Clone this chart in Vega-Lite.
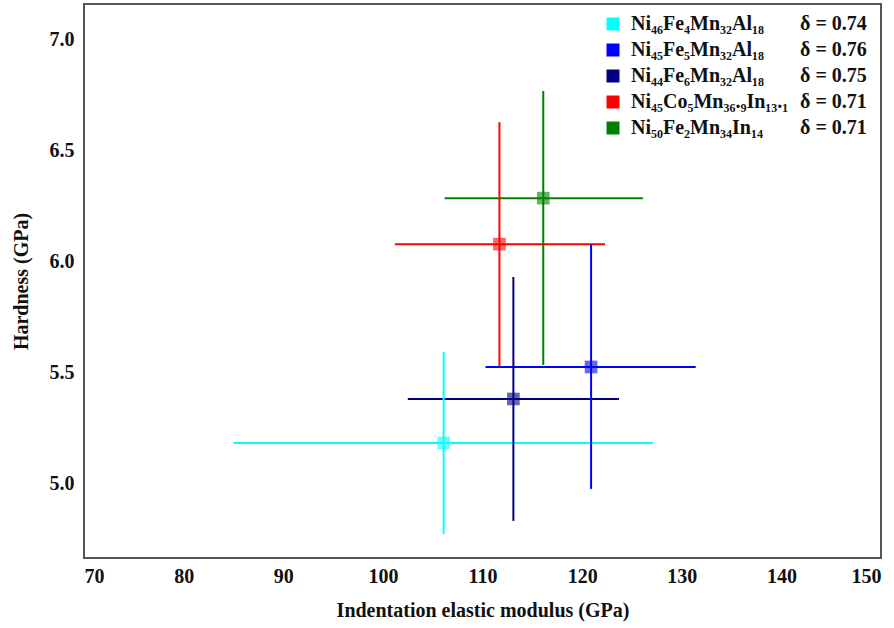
{
  "$schema": "https://vega.github.io/schema/vega-lite/v6.json",
  "width": 797,
  "height": 554,
  "autosize": {"type": "none"},
  "padding": {"left": 84, "top": 4, "right": 13, "bottom": 70},
  "background": "white",
  "config": {
    "view": {"stroke": "#555555", "strokeWidth": 2},
    "font": "Liberation Serif",
    "axis": {
      "grid": false,
      "ticks": false,
      "domain": false,
      "labelFont": "Liberation Serif",
      "labelFontWeight": "bold",
      "labelFontSize": 20,
      "labelColor": "#111111",
      "titleFont": "Liberation Serif",
      "titleFontWeight": "bold",
      "titleFontSize": 20,
      "titleColor": "#111111"
    }
  },
  "data": {
    "values": [
      {"alloy": "Ni₄₆Fe₄Mn₃₂Al₁₈", "delta_key": "1: 0.74", "E": 106.1, "E_lo": 85.0, "E_hi": 127.1, "H": 5.182, "H_lo": 4.772, "H_hi": 5.591},
      {"alloy": "Ni₄₅Fe₅Mn₃₂Al₁₈", "delta_key": "2: 0.76", "E": 120.9, "E_lo": 110.3, "E_hi": 131.4, "H": 5.524, "H_lo": 4.975, "H_hi": 6.077},
      {"alloy": "Ni₄₄Fe₆Mn₃₂Al₁₈", "delta_key": "3: 0.75", "E": 113.1, "E_lo": 102.5, "E_hi": 123.7, "H": 5.380, "H_lo": 4.831, "H_hi": 5.929},
      {"alloy": "Ni₄₅Co₅Mn₃₆.₉In₁₃.₁", "delta_key": "4: 0.71", "E": 111.7, "E_lo": 101.2, "E_hi": 122.3, "H": 6.077, "H_lo": 5.528, "H_hi": 6.626},
      {"alloy": "Ni₅₀Fe₂Mn₃₄In₁₄", "delta_key": "5: 0.71", "E": 116.1, "E_lo": 106.2, "E_hi": 126.1, "H": 6.284, "H_lo": 5.533, "H_hi": 6.766}
    ]
  },
  "encoding": {
    "x": {
      "field": "E",
      "type": "quantitative",
      "scale": {"domain": [70, 150], "nice": false, "zero": false},
      "axis": {"values": [70, 80, 90, 100, 110, 120, 130, 140, 150], "labelPadding": 8, "titlePadding": 14, "title": "Indentation elastic modulus (GPa)"}
    },
    "y": {
      "field": "H",
      "type": "quantitative",
      "scale": {"domain": [4.664, 7.158], "nice": false, "zero": false},
      "axis": {"values": [5.0, 5.5, 6.0, 6.5, 7.0], "format": ".1f", "labelPadding": 10, "titlePadding": 18, "title": "Hardness (GPa)"}
    },
    "color": {
      "field": "alloy",
      "type": "nominal",
      "scale": {
        "domain": ["Ni₄₆Fe₄Mn₃₂Al₁₈", "Ni₄₅Fe₅Mn₃₂Al₁₈", "Ni₄₄Fe₆Mn₃₂Al₁₈", "Ni₄₅Co₅Mn₃₆.₉In₁₃.₁", "Ni₅₀Fe₂Mn₃₄In₁₄"],
        "range": ["#00FFFF", "#0000FF", "#000080", "#FF0000", "#008000"]
      },
      "legend": {
        "title": null,
        "orient": "none",
        "legendX": 519,
        "legendY": 10,
        "padding": 0,
        "symbolType": "square",
        "symbolSize": 169,
        "symbolOpacity": 1,
        "symbolStrokeWidth": 0,
        "labelFont": "Liberation Serif",
        "labelFontWeight": "bold",
        "labelFontSize": 20,
        "labelColor": "#111111",
        "labelOffset": 8,
        "labelLimit": 300,
        "rowPadding": 6
      }
    }
  },
  "layer": [
    {
      "mark": {"type": "rule", "strokeWidth": 2},
      "encoding": {
        "x": {"field": "E_lo", "type": "quantitative", "scale": {"domain": [70, 150], "nice": false, "zero": false}, "axis": {"values": [70, 80, 90, 100, 110, 120, 130, 140, 150], "labelPadding": 8, "titlePadding": 14, "title": "Indentation elastic modulus (GPa)"}},
        "x2": {"field": "E_hi"}
      }
    },
    {
      "mark": {"type": "rule", "strokeWidth": 2},
      "encoding": {
        "y": {"field": "H_lo", "type": "quantitative", "scale": {"domain": [4.664, 7.158], "nice": false, "zero": false}, "axis": {"values": [5.0, 5.5, 6.0, 6.5, 7.0], "format": ".1f", "labelPadding": 10, "titlePadding": 18, "title": "Hardness (GPa)"}},
        "y2": {"field": "H_hi"}
      }
    },
    {
      "mark": {"type": "point", "filled": true, "size": 160, "opacity": 0.6},
      "encoding": {
        "shape": {
          "field": "delta_key",
          "type": "nominal",
          "scale": {"range": ["square", "square", "square", "square", "square"]},
          "legend": {
            "title": null,
            "orient": "none",
            "legendX": 696,
            "legendY": 10,
            "padding": 0,
            "symbolSize": 0,
            "symbolOpacity": 0,
            "labelOffset": 0,
            "labelFont": "Liberation Serif",
            "labelFontWeight": "bold",
            "labelFontSize": 20,
            "labelColor": "#111111",
            "rowPadding": 6,
            "labelExpr": "'δ = ' + split(datum.label, ': ')[1]"
          }
        }
      }
    }
  ]
}
